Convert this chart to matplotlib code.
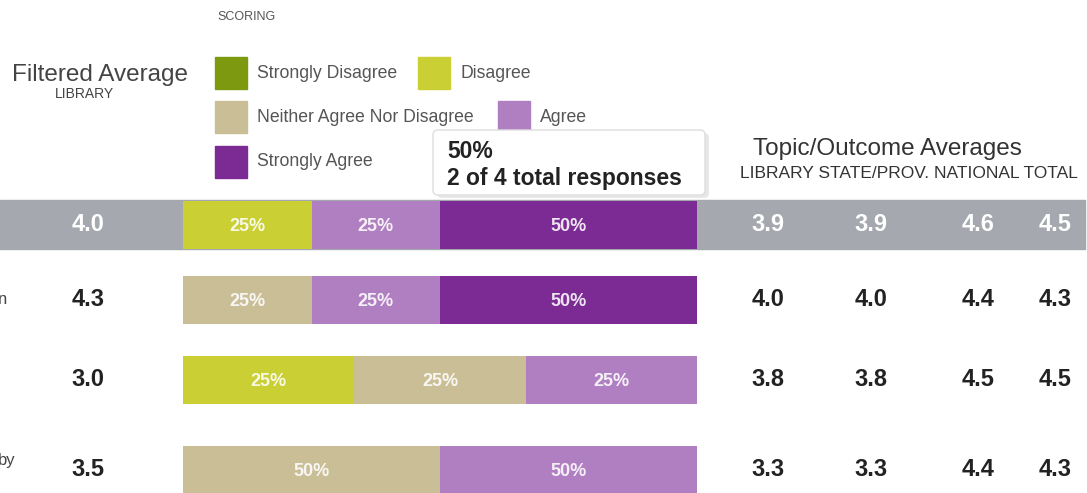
import matplotlib.pyplot as plt
import numpy as np
from matplotlib.patches import Rectangle, FancyBboxPatch

plt.rcParams['font.family'] = ['Liberation Sans', 'DejaVu Sans']

# scoring scale, low to high
scores = ['Strongly Disagree', 'Disagree', 'Neither Agree Nor Disagree',
          'Agree', 'Strongly Agree']
score_colors = ['#7d990f', '#cacf34', '#cabe97', '#b07fc1', '#7b2b93']

# responses per score for each question row (4 total responses each)
counts = [
    [0, 1, 0, 1, 2],
    [0, 0, 1, 1, 2],
    [0, 1, 1, 1, 0],
    [0, 0, 2, 2, 0],
]
total_responses = 4

filtered_avg = ['4.0', '4.3', '3.0', '3.5']
col_names = ['LIBRARY', 'STATE/PROV.', 'NATIONAL', 'TOTAL']
topic_avgs = [
    ['3.9', '3.9', '4.6', '4.5'],
    ['4.0', '4.0', '4.4', '4.3'],
    ['3.8', '3.8', '4.5', '4.5'],
    ['3.3', '3.3', '4.4', '4.3'],
]
left_labels = ['', 'n', '', 'by']

W, H = 1087, 493
fig = plt.figure(figsize=(W / 100, H / 100), dpi=100)

# background layer in pixel units
bg = fig.add_axes([0, 0, 1, 1])
bg.set_xlim(0, W)
bg.set_ylim(H, 0)
bg.axis('off')

row_y = [224.5, 300, 380, 470]
bar_h = 48
highlight = 0

bg.add_patch(Rectangle((0, row_y[highlight] - 24.5), 1085, 49,
                       color='#a5a8ae', zorder=1))

# header
bg.text(217, 17, 'SCORING', fontsize=9, color='#555555', va='center')
bg.text(100, 75, 'Filtered Average', fontsize=17.5, color='#444444',
        ha='center', va='center')
bg.text(84, 94, 'LIBRARY', fontsize=10, color='#444444',
        ha='center', va='center')

leg_pos = [(215, 73), (418, 73), (215, 117), (498, 117), (215, 162)]
for (lx, ly), name, c in zip(leg_pos, scores, score_colors):
    bg.add_patch(Rectangle((lx, ly - 16), 32, 32, color=c))
    bg.text(lx + 42, ly, name, fontsize=12.7, color='#555555', va='center')

bg.text(887, 149, 'Topic/Outcome Averages', fontsize=17.5, color='#333333',
        ha='center', va='center')
bg.text(909, 173, ' '.join(col_names), fontsize=12.5, color='#333333',
        ha='center', va='center')

col_x = [768, 871, 978, 1055]
for i, y in enumerate(row_y):
    on_band = i == highlight
    c = 'white' if on_band else '#222222'
    bg.text(88, y, filtered_avg[i], fontsize=17, fontweight='bold',
            color=c, ha='center', va='center', zorder=3)
    for x, v in zip(col_x, topic_avgs[i]):
        bg.text(x, y, v, fontsize=17, fontweight='bold', color=c,
                ha='center', va='center', zorder=3)
    if left_labels[i]:
        bg.text(-2, y - 10 if i == 3 else y, left_labels[i], fontsize=12,
                color='#444444', va='center')

# stacked bars
ax = fig.add_axes([183 / W, 0, 514 / W, 1])
ax.set_xlim(0, 1)
ax.set_ylim(H, 0)
ax.axis('off')
ax.patch.set_alpha(0)

for i, row in enumerate(counts):
    row = np.array(row, dtype=float)
    widths = row / row.sum()
    lefts = np.concatenate([[0], np.cumsum(widths)[:-1]])
    for k in range(len(scores)):
        if row[k] == 0:
            continue
        ax.barh(row_y[i], widths[k], left=lefts[k], height=bar_h,
                color=score_colors[k], zorder=2)
        pct = '{:.0f}%'.format(100 * row[k] / total_responses)
        ax.text(lefts[k] + widths[k] / 2, row_y[i] + 2, pct, fontsize=13,
                fontweight='bold', color='white', alpha=0.88,
                family=['Liberation Sans Narrow', 'Liberation Sans'],
                ha='center', va='center', zorder=3)

# tooltip over the highlighted segment
tip = fig.add_axes([0, 0, 1, 1])
tip.set_xlim(0, W)
tip.set_ylim(H, 0)
tip.axis('off')
tip.patch.set_alpha(0)
tip.add_patch(FancyBboxPatch((437, 133), 272, 65,
                             boxstyle='round,pad=0,rounding_size=5',
                             facecolor='#d8d8d8', edgecolor='none', alpha=0.6))
tip.add_patch(FancyBboxPatch((433, 130), 272, 65,
                             boxstyle='round,pad=0,rounding_size=5',
                             facecolor='white', edgecolor='#dddddd', lw=1))
tip.text(447, 152, '50%', fontsize=16.5, fontweight='bold', color='#222222',
         va='center')
tip.text(447, 179, '2 of 4 total responses', fontsize=16.5, fontweight='bold',
         color='#222222', va='center')

fig.savefig('out.png', dpi=100)
